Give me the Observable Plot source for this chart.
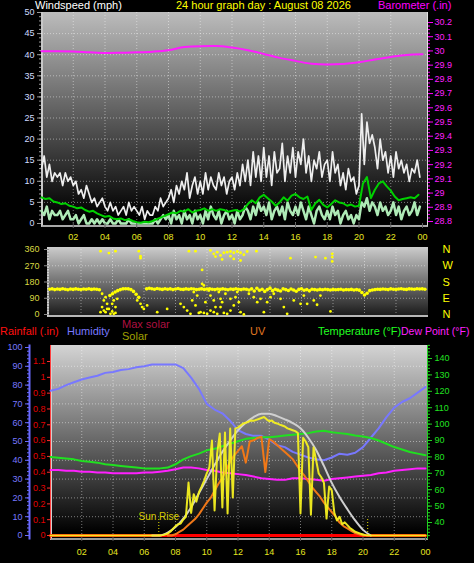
<!DOCTYPE html>
<html><head><meta charset="utf-8">
<script src="https://cdn.jsdelivr.net/npm/d3@7"></script>
<script src="https://cdn.jsdelivr.net/npm/@observablehq/plot@0.6"></script>
<style>
body{margin:0;background:#000;}
#root{position:relative;width:474px;height:563px;background:#000;overflow:hidden;font-family:"Liberation Sans",Arial,sans-serif;}
.bg{position:absolute;box-sizing:border-box;}
.layer{position:absolute;left:0;top:0;}
.lbl{position:absolute;white-space:nowrap;font-size:11px;line-height:1;}
</style></head><body><div id="root"></div>
<script>
// ---------- tick labels ----------
const hourTicks = [2,4,6,8,10,12,14,16,18,20,22,24];
const hourGrid = [2,4,6,8,10,12,14,16,18,20,22];
const windTicks = [0,5,10,15,20,25,30,35,40,45,50];
const baroTicks = [28.8,28.9,29,29.1,29.2,29.3,29.4,29.5,29.6,29.7,29.8,29.9,30,30.1,30.2];
const dirTicks = [0,90,180,270,360];
const dirLetters = ["N","E","S","W","N"];
const humTicks = [0,10,20,30,40,50,60,70,80,90,100];
const rainTicks = [0,0.1,0.2,0.3,0.4,0.5,0.6,0.7,0.8,0.9,1,1.1];
const tempTicks = [40,50,60,70,80,90,100,110,120,130,140];

// ---------- wind (mph) ----------
// gust, 10-minute samples
const gust = [
13,16,11,14,10,12, 11,12,9,12,10,11, 9,10,7,8,6,9, 7,5,6,4,5,6,
4,3,5,3,4,2, 3,4,2,5,3,4, 3,2,4,1,3,2, 2,4,3,6,4,5,
6,8,5,9,7,10, 8,12,6,9,11,7, 10,7,12,8,11,9, 8,12,9,11,7,10,
11,8,12,9,14,10, 15,9,17,11,16,10, 18,11,16,9,17,12, 13,19,10,16,12,18,
11,17,14,20,12,16, 10,15,13,17,11,14, 15,10,17,12,14,9, 12,8,13,10,11,7,
9,26,14,24,19,21, 18,13,20,15,17,12, 16,11,17,13,15,12, 14,10,13,12,15,11];
// wind speed, 10-minute samples
const windSpeed = [
3,2,4,1,3,2, 2,3,1,2,3,1, 1,2,0,1,2,0, 0,1,0,1,0,1,
0,0,1,0,0,1, 0,0,0,1,0,0, 0,0,0,0,0,0, 0,1,0,1,2,1,
2,0,3,1,2,0, 3,1,2,0,3,1, 2,0,3,1,4,2, 1,3,0,2,3,1,
2,0,3,1,2,4, 3,1,4,2,5,3, 4,2,5,1,3,4, 2,4,1,5,3,2,
4,2,5,3,1,4, 2,0,3,4,2,1, 3,1,4,2,3,0, 2,3,1,2,0,2,
1,5,4,6,3,5, 4,2,5,3,4,2, 3,5,2,4,1,3, 4,2,3,5,2,4];
// average wind, 15-minute samples
const windAvg = [
6.2,5.8,6.0,5.2, 5.0,4.6,4.8,4.2, 4.0,3.6,3.8,3.2, 2.8,3.0,2.4,2.0,
1.6,1.8,1.2,1.0, 1.2,0.8,1.0,0.6, 0.3,0.2,0.4,0.3, 0.6,1.0,1.4,1.8,
2.2,2.6,2.4,3.0, 2.8,3.4,2.6,3.0, 3.2,3.6,3.0,3.4, 3.0,3.4,3.2,2.8,
3.0,3.2,2.8,3.4, 4.6,5.5,4.8,6.2, 6.8,6.0,5.2,4.2, 5.0,6.2,5.4,6.6,
7.0,6.2,5.8,6.4, 3.2,4.8,5.6,4.4, 3.8,4.6,5.5,5.0, 4.8,4.2,4.5,4.0,
4.2,9.5,11.0,6.0, 8.0,9.5,10.0,8.8, 7.8,6.4,5.5,5.8, 6.0,6.2,6.0,6.8];
// barometer (in), hourly
const baro = [29.998,29.998,29.996,29.99,29.985,29.987,29.99,29.995,30.005,30.027,30.033,30.034,30.024,
30.005,29.979,29.951,29.93,29.91,29.905,29.908,29.92,29.94,29.958,29.972,29.976];

// ---------- wind direction (deg), 10-minute samples ----------
const dirBand = [
140,142,138,141,139,143,140,137,141,139,142,140,138,141,140,143,139,141,140,
137, null,null,null,
105,115,125,132,138,142,143,142,138,128,112,95,
null,null,
142,145,143,140,144,141,139,143,140,142,138,141,144,140,139,142,140,143,141,138,
140,142,139,141,143,140,138,141,139,142,140,137,141,139,143,140,138,141,140,
136,142,130,145,134,140,128,138,146,132,140,135,130,142,138,133,141,136,129,139,143,134,138,131,140,
138,136,139,137,140,138,136,139,137,138,140,136,138,137,139,136,138,135,
122,108,118,
132,136,138,140,139,141,140,138,142,140,139,141,143,140,139,142,141,140,143,141,142,140];
const dirOutliers = [
[3.24,351],[3.77,340],[4.19,351],[5.67,351],[5.78,323],[5.78,312],[8.85,351],[9.27,351],[9.69,247],
[10.22,355],[10.43,336],[10.65,345],[10.86,327],[11.07,342],[11.28,345],[11.49,349],[11.7,342],[11.92,349],
[12.13,342],[12.34,331],[11.7,308],[12.13,299],[10.54,321],[10.96,305],[11.49,323],[12.55,349],[13.14,351],
[15.3,312],[16.89,318],[17.52,312],[17.95,336],[17.95,318],[17.95,294],
[3.34,115],[3.45,78],[3.34,41],[3.56,13],[3.77,31],[3.98,59],[4.08,4],[4.19,41],[3.87,4],[3.24,13],
[3.66,59],[4.3,87],[3.56,96],[4.08,78],[3.45,22],[3.98,17],[4.19,9],[3.66,31],
[5.57,78],[5.78,59],[5.88,41],[5.99,31],[6.2,50],[6.84,13],[7.47,31],
[8.32,59],[8.53,41],[8.74,22],[8.95,4],[9.06,78],[9.16,124],[9.38,105],[9.59,13],[9.69,170],[9.8,161],
[9.9,68],[10.01,4],[10.12,133],[10.22,105],[10.43,13],[10.54,41],[10.65,4],[10.75,124],[10.86,87],
[10.96,68],[11.07,9],[11.28,4],[11.49,22],[11.7,50],[11.81,96],[11.92,124],[12.13,13],[12.34,0],
[12.02,68],[10.43,78],[9.59,142],[9.27,50],[9.48,9],[10.86,41],[11.17,115],[11.49,87],[9.8,9],[10.22,22],
[12.66,115],[12.97,96],[13.4,87],[13.61,13],[13.82,68],[14.24,115],[14.67,87],[15.09,4],[15.51,78],
[15.94,59],[14.88,41],[13.19,68],[14.03,96],
[16.15,105],[16.36,59],[16.99,54],[17.84,17],[17.2,105],[16.78,78]];

// ---------- bottom panel, 30-minute samples ----------
const humidity = [77,78,80,81.5,83,84,85,86.5,87,88,88.5,89.5,90,91,91,91,91,89,84,78,70,67,65,61,56,
54,53,53,51,48,47,44.5,43,41.5,40.5,40,41.5,43.5,43,44,47,52,57,63,68,71,73,76,79];
const temperature = [80,79.5,79,78.5,77.5,77,76.5,75.5,75,74.5,74,73.5,73,73,73,73.5,75.5,78.5,80.5,82,84,85,86.5,88,89.5,
91,91.5,92,92,92.5,93,93.5,94,94.5,95.5,96,95,94.5,94,93,92.5,91.5,90,88,86,84.5,83,82,81];
const dewPoint = [72,72,71.5,71.5,71,71,70.5,70.5,70,70,70,70,70.5,70.5,71,71.5,72.5,73.5,73.5,73,72,71.5,70.5,70,69.5,
69,68,67,66.5,66,66,67,67,66.5,66,65.5,66.5,67,67.5,68,68.5,69,70,70.5,71.5,72,72.5,73,73];
const maxSolar = [0,0,0,0,0,0,0,0,0,0,0,0,0,0,
0,15,45,90,150,225,300,375,445,505,560,600,630,647,648,635,618,598,570,520,455,370,280,205,140,80,30,0,
0,0,0,0,0,0,0];
const rainfall = [0,0,0,0,0,0,0,0,0,0,0,0,0,0,0,0,0,0,0,0,0,0,0,0,0];
// solar (W/m2), 10-minute samples
const solar = [
0,0,0,0,0,0, 0,0,0,0,0,0, 0,0,0,0,0,0, 0,0,0,0,0,0, 0,0,0,0,0,0, 0,0,0,0,0,0, 0,0,0,0,0,0,
0,2,5,10,20,35, 50,60,64,85,100,282, 120,220,180,230,260,292, 330,362,505,133,436,542,
149,548,117,569,202,570, 574,585,596,600,605,612, 610,615,620,625,630,618, 608,612,600,596,590,585,
580,570,565,560,555,545, 117,520,500,470,110,468, 400,330,310,280,90,260, 240,120,80,100,60,70,
55,40,30,20,15,10, 5,2,0,0,0,0, 0,0,0,0,0,0, 0,0,0,0,0,0, 0,0,0,0,0,0, 0];
// UV index, 15-minute samples
const uv = [
0,0,0,0, 0,0,0,0, 0,0,0,0, 0,0,0,0, 0,0,0,0, 0,0,0,0, 0,0,0,0, 0,0,0,0,
0.1,0.3,0.5,0.8, 1.1,1.4,1.8,2.3, 2.8,3.2,3.8,4.4, 4.9,5.6,6.3,6.8, 7.2,7.6,6.2,8.0,
8.1,8.3,8.4,5.4, 8.2,8.0,7.7,7.4, 7.1,6.8,6.5,6.0, 5.5,5.1,4.6,4.1, 3.7,3.3,2.8,2.4,
2.0,1.6,1.1,0.8, 0.6,0.4,0.2,0.1, 0,0,0,0, 0,0,0,0, 0,0,0,0, 0,0,0,0, 0];
const sunEvents = [6.93, 20.3];

// ---------- drawing ----------
const FONT = '"Liberation Sans", Arial, sans-serif';
const W = 474, H = 563;
const root = document.getElementById("root");
const fmtHour = h => String(h % 24).padStart(2, "0");
const fmt1 = d => String(+d.toFixed(1));
const series = (arr, step) => arr.map((v, i) => ({h: i * step, v}));
const grid = {stroke: "#ffffff", strokeOpacity: 0.45, strokeDasharray: "1,2"};

function box(l, t, w, h, css) {
  const d = document.createElement("div");
  d.className = "bg";
  d.style.cssText = `left:${l}px;top:${t}px;width:${w}px;height:${h}px;${css}`;
  root.appendChild(d);
}
function layer(o) {
  const svg = Plot.plot(Object.assign({
    width: W, height: H,
    style: {background: "transparent", fontFamily: FONT, fontSize: "9px", overflow: "visible"}
  }, o));
  svg.classList.add("layer");
  root.appendChild(svg);
}
function label(text, l, t, color, size) {
  const s = document.createElement("span");
  s.className = "lbl";
  s.textContent = text;
  s.style.left = l + "px"; s.style.top = t + "px"; s.style.color = color;
  if (size) s.style.fontSize = size + "px";
  root.appendChild(s);
}

// panel backgrounds
box(41, 12, 387, 215, "background:linear-gradient(#bcbcbc,#000 96%);border-left:2px solid #c8c8c8;border-bottom:2px solid #a8a8a8;border-right:1px solid #e0e0e0;");
box(47, 247, 381, 70, "background:linear-gradient(#cccccc,#1c1c1c);border-left:2px solid #d0d0d0;border-bottom:2px solid #b8b8b8;");
box(50, 345, 378, 195, "background:linear-gradient(#d4d4d4,#000 97%);border-left:2px solid #d0d0d0;border-bottom:2px solid #9a9a9a;");

// ===== Panel 1: wind + barometer =====
layer({ // frame, grid and wind axis
  marginLeft: 41, marginRight: 47, marginTop: 12, marginBottom: H - 223,
  x: {domain: [0, 1], axis: null},
  y: {domain: [0, 50], axis: null},
  marks: [
    Plot.gridY(windTicks.slice(1, -1), grid),
    Plot.axisY(d3.range(0, 51, 1), {anchor: "left", label: null, tickSize: 2, tickFormat: () => "", stroke: "#9a9a9a"}),
    Plot.axisY(windTicks, {anchor: "left", label: null, tickSize: 4, tickPadding: 3, stroke: "#9a9a9a", fill: "#cfdcff", fontSize: 9}),
  ]
});
layer({ // wind series
  marginLeft: 41, marginRight: 52, marginTop: 12, marginBottom: H - 223,
  x: {domain: [0, 24], axis: null},
  y: {domain: [0, 50], axis: null},
  marks: [
    Plot.gridX(hourGrid, grid),
    Plot.line(series(gust, 1/6), {x: "h", y: "v", stroke: "#eeeeee", strokeWidth: 1.7}),
    Plot.line(series(windSpeed, 1/6), {x: "h", y: "v", stroke: "#aeeab6", strokeWidth: 2.5}),
    Plot.line(series(windAvg, 1/4), {x: "h", y: "v", stroke: "#00d000", strokeWidth: 2}),
    Plot.axisX(hourTicks, {anchor: "bottom", label: null, tickSize: 5, tickPadding: 5, stroke: "#606060", fill: "#e6e620", fontSize: 9, tickFormat: fmtHour}),
  ]
});
layer({ // barometer series
  marginLeft: 41, marginRight: 52, marginTop: 22, marginBottom: H - 221,
  x: {domain: [0, 24], axis: null},
  y: {domain: [28.8, 30.2], axis: null},
  marks: [
    Plot.line(series(baro, 1), {x: "h", y: "v", stroke: "#ff1cff", strokeWidth: 2, curve: "monotone-x"}),
  ]
});
layer({ // barometer axis
  marginLeft: 41, marginRight: 47, marginTop: 22, marginBottom: H - 221,
  x: {domain: [0, 1], axis: null},
  y: {domain: [28.8, 30.2], axis: null},
  marks: [
    Plot.axisY(d3.range(28.8, 30.21, 0.025), {anchor: "right", label: null, tickSize: 2, tickFormat: () => "", stroke: "#ff00ff"}),
    Plot.axisY(baroTicks, {anchor: "right", label: null, tickSize: 5, tickPadding: 2, stroke: "#ff00ff", fill: "#ff20ff", fontSize: 9, tickFormat: fmt1}),
  ]
});

// ===== Panel 2: wind direction =====
layer({
  marginLeft: 49, marginRight: 47, marginTop: 249, marginBottom: H - 314,
  x: {domain: [0, 24], axis: null},
  y: {domain: [0, 360], axis: null},
  marks: [
    Plot.gridY([90, 180, 270], grid),
    Plot.gridX(hourGrid, grid),
    Plot.dot(dirBand.map((v, i) => ({h: i / 6, v})).filter(d => d.v != null), {x: "h", y: "v", r: 1.8, fill: "#ffff00"}),
    Plot.dot(dirOutliers, {x: "0", y: "1", r: 1.4, fill: "#ffff00"}),
    Plot.axisY(d3.range(0, 361, 15), {anchor: "left", label: null, tickSize: 2, tickFormat: () => "", stroke: "#8a8a8a"}),
    Plot.axisY(dirTicks, {anchor: "left", label: null, tickSize: 5, tickPadding: 5, stroke: "#8a8a8a", fill: "#d8d840", fontSize: 9}),
    Plot.axisY(dirTicks, {anchor: "right", label: null, tickSize: 0, tickPadding: 15, fill: "#ffff00", fontSize: 11, tickFormat: d => dirLetters[dirTicks.indexOf(d)]}),
  ]
});

// ===== Panel 3: rain / humidity / solar / UV / temperature / dew point =====
layer({ // horizontal grid across frame
  marginLeft: 50, marginRight: 47, marginTop: 347, marginBottom: H - 535,
  x: {domain: [0, 1], axis: null},
  y: {domain: [0, 100], axis: null},
  marks: [Plot.gridY(humTicks.slice(1, -1), grid)]
});
layer({ // humidity axis (outer left)
  marginLeft: 29, marginRight: 47, marginTop: 345, marginBottom: H - 538,
  x: {domain: [0, 1], axis: null},
  y: {domain: [0, 100], range: [535, 347], axis: null},
  marks: [
    Plot.frame({anchor: "left", stroke: "#6a6aff", strokeWidth: 2}),
    Plot.axisY(d3.range(0, 101, 2), {anchor: "left", label: null, tickSize: 2, tickFormat: () => "", stroke: "#6a6aff"}),
    Plot.axisY(humTicks, {anchor: "left", label: null, tickSize: 4, tickPadding: 3, stroke: "#6a6aff", fill: "#7878ff", fontSize: 9}),
  ]
});
layer({ // rain axis
  marginLeft: 50, marginRight: 47, marginTop: 345, marginBottom: H - 538,
  x: {domain: [0, 1], axis: null},
  y: {domain: [0, 1.2], range: [535, 345.2], axis: null},
  marks: [
    Plot.frame({anchor: "left", stroke: "#ff4040", strokeDasharray: "1,1"}),
    Plot.axisY(rainTicks, {anchor: "left", label: null, tickSize: 3, tickPadding: 2, stroke: "#ff3030", fill: "#e00000", fontSize: 9, tickFormat: fmt1}),
  ]
});
layer({ // temperature axis (right)
  marginLeft: 50, marginRight: 47, marginTop: 345, marginBottom: H - 538,
  x: {domain: [0, 1], axis: null},
  y: {domain: [30, 150], range: [538.4, 341.6], axis: null},
  marks: [
    Plot.frame({anchor: "right", stroke: "#20d020", strokeDasharray: "1,1"}),
    Plot.axisY(d3.range(32, 149, 2), {anchor: "right", label: null, tickSize: 2, tickFormat: () => "", stroke: "#20d020"}),
    Plot.axisY(tempTicks, {anchor: "right", label: null, tickSize: 4, tickPadding: 3, stroke: "#20d020", fill: "#20e020", fontSize: 9}),
  ]
});
layer({ // humidity + x axis
  marginLeft: 50, marginRight: 49, marginTop: 347, marginBottom: H - 535,
  x: {domain: [0, 24], axis: null},
  y: {domain: [0, 100], axis: null},
  marks: [
    Plot.gridX(hourGrid, grid),
    Plot.line(series(humidity, 0.5), {x: "h", y: "v", stroke: "#7878ff", strokeWidth: 2}),
    Plot.axisX(hourTicks, {anchor: "bottom", label: null, tickSize: 6, tickPadding: 7, stroke: "#505050", fill: "#e6e620", fontSize: 9, tickFormat: fmtHour}),
  ]
});
layer({ // temperature and dew point
  marginLeft: 50, marginRight: 49, marginTop: 342, marginBottom: 25,
  x: {domain: [0, 24], axis: null},
  y: {domain: [30, 150], range: [538.4, 341.6], axis: null},
  marks: [
    Plot.line(series(temperature, 0.5), {x: "h", y: "v", stroke: "#20e020", strokeWidth: 2}),
    Plot.line(series(dewPoint, 0.5), {x: "h", y: "v", stroke: "#ff20ff", strokeWidth: 2}),
  ]
});
layer({ // rainfall
  marginLeft: 50, marginRight: 49, marginTop: 345, marginBottom: 28,
  x: {domain: [0, 24], axis: null},
  y: {domain: [0, 1.2], range: [535, 345.2], axis: null},
  marks: [Plot.line(series(rainfall, 1), {x: "h", y: "v", stroke: "#ff0000", strokeWidth: 3})]
});
layer({ // max solar
  marginLeft: 50, marginRight: 49, marginTop: 347, marginBottom: 28,
  x: {domain: [0, 24], axis: null},
  y: {domain: [0, 1000], axis: null},
  marks: [
    Plot.line(series(maxSolar, 0.5).filter(d => d.v > 0 || (d.h > 6 && d.h < 21)), {x: "h", y: "v", stroke: "#cfcfcf", strokeWidth: 2, curve: "monotone-x"}),
  ]
});
layer({ // UV
  marginLeft: 50, marginRight: 49, marginTop: 347, marginBottom: 28,
  x: {domain: [0, 24], axis: null},
  y: {domain: [0, 16], axis: null},
  marks: [Plot.line(series(uv, 0.25).filter(d => d.h >= 7.5 && d.h <= 20.25), {x: "h", y: "v", stroke: "#f07818", strokeWidth: 2})]
});
layer({ // solar on top
  marginLeft: 50, marginRight: 49, marginTop: 347, marginBottom: 28,
  x: {domain: [0, 24], axis: null},
  y: {domain: [0, 1000], axis: null},
  marks: [
    Plot.line(series(solar, 1/6), {x: "h", y: "v", stroke: "#f4f020", strokeWidth: 2, strokeOpacity: 0.95}),
    Plot.ruleX(sunEvents, {y1: 0, y2: 85, stroke: "#e8e000", strokeDasharray: "1,2"}),
    Plot.text(sunEvents.slice(0, 1), {x: d => d, y: 0, dy: -19, text: () => "Sun Rise", fill: "#d8cc00", fontSize: 10}),
  ]
});

// titles and legend
label("Windspeed (mph)", 35, 0, "#ffffff");
label("24 hour graph day : August 08 2026", 176, 0, "#ffff00");
label("Barometer (.in)", 378, 0, "#ff00ff");
label("Rainfall (.in)", 0, 326, "#ff1010");
label("Humidity", 67, 326, "#7878ff");
label("Max solar", 122, 319, "#b01040");
label("Solar", 122, 331, "#a0a000");
label("UV", 250, 326, "#e07820");
label("Temperature (°F)", 318, 326, "#20ff20");
label("Dew Point (°F)", 401, 326, "#ff20ff", 10.5);
</script></body></html>
